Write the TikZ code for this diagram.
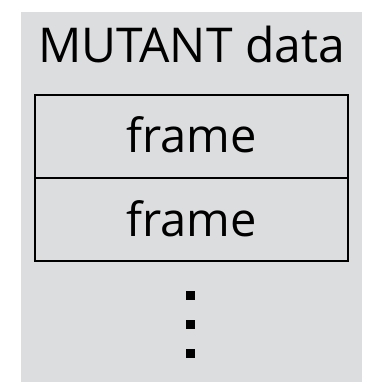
\documentclass[tikz,border=0pt]{standalone}
\usepackage{fontspec}
\setmainfont{Open Sans}
\definecolor{panel}{HTML}{DCDDDF}
\begin{document}
\begin{tikzpicture}[x=1pt, y=-1pt,
  label/.style={font=\fontsize{48}{58}\selectfont, inner sep=0pt},
  framebox/.style={draw=black, line width=2.8pt, minimum width=313pt, minimum height=83pt,
    inner sep=0pt, text height=38pt, text depth=5pt, font=\fontsize{47}{56}\selectfont},
  dotmark/.style={fill=black, minimum size=9pt, inner sep=0pt}]
  \useasboundingbox (0,0) rectangle (376,382);
  % grey panel behind the record
  \fill[panel] (21,12) rectangle (362,382);
  % heading
  \node[label, anchor=base] (title) at (191.5,63) {MUTANT data};
  % stacked frames
  \node[framebox] (f1) at (191.5,136.5) {frame};
  \node[framebox] (f2) at (191.5,219.5) {frame};
  % continuation marks
  \node[dotmark] (d1) at (190.5,295) {};
  \node[dotmark] (d2) at (190.5,324) {};
  \node[dotmark] (d3) at (190.5,353) {};
\end{tikzpicture}
\end{document}
